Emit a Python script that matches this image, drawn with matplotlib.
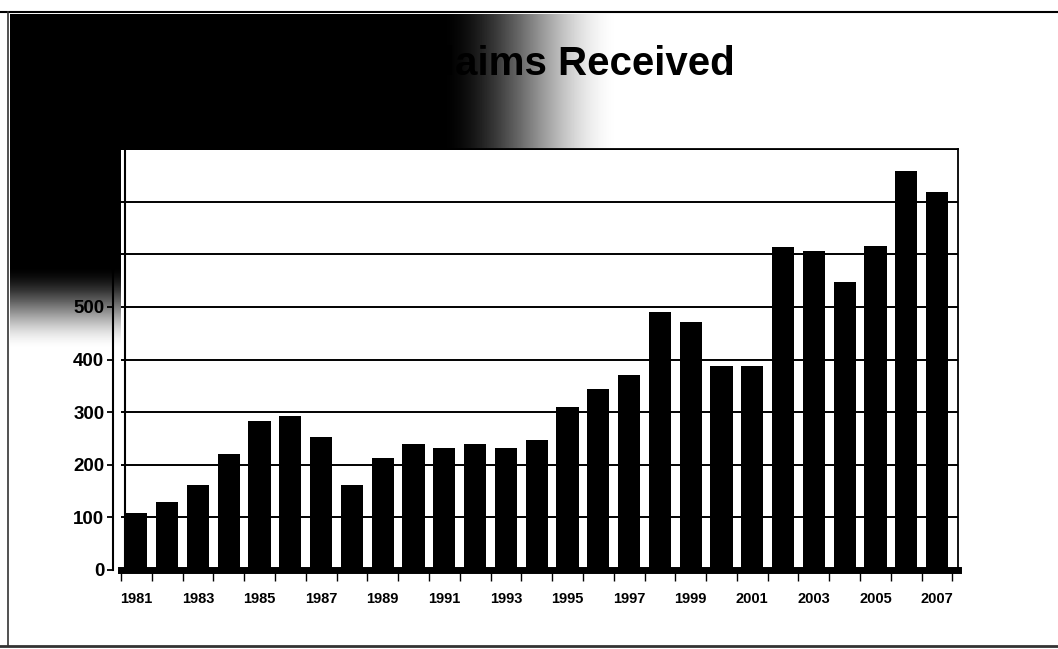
import numpy as np
import matplotlib
matplotlib.use("Agg")
import matplotlib.pyplot as plt
from matplotlib.lines import Line2D

# claims received per year
years = list(range(1981, 2008))
claims = [108, 130, 162, 221, 283, 292, 252, 162, 212, 240, 232, 240, 232, 247,
          309, 343, 370, 491, 471, 387, 387, 614, 606, 547, 616, 759, 719]
year_labels = [str(y) if (y - 1981) % 2 == 0 else "" for y in years]
y_ticks = [0, 100, 200, 300, 400, 500, 600, 700, 800]

W, H = 1058, 649
plt.rcParams['font.family'] = ['Liberation Sans', 'DejaVu Sans']

fig = plt.figure(figsize=(W / 100, H / 100), dpi=100)

# dark gradient in the top-left corner of the slide
bg = fig.add_axes([0, 0, 1, 1], zorder=0)
xx, yy = np.meshgrid(np.arange(W), np.arange(H))

def ramp(v, a, b):
    t = np.clip((b - v) / (b - a), 0, 1)
    return t * t * (3 - 2 * t)

top = ramp(xx, 440, 620) * ((xx > 9) & (yy > 13) & (yy < 150))
left = ramp(yy, 265, 350) * ((xx > 9) & (xx < 121) & (yy > 13))
dark = np.maximum(top, left)
img = 1 - dark
bg.imshow(img, cmap='gray', vmin=0, vmax=1, aspect='auto', interpolation='bilinear')
bg.set_axis_off()

# slide border lines
fig.add_artist(Line2D([0, 1], [1 - 12 / H, 1 - 12 / H], color='black', lw=1.5))
fig.add_artist(Line2D([0, 1], [1 - 646 / H, 1 - 646 / H], color='#333333', lw=2))
fig.add_artist(Line2D([8 / W, 8 / W], [1 - 646 / H, 1 - 12 / H], color='#333333', lw=1.2))

fig.text(735 / W, 1 - 75 / H, "Claims Received", ha='right', va='baseline',
         fontsize=29, fontweight='bold', color='black')

ax = fig.add_axes([121 / W, 1 - 570 / H, (958 - 121) / W, (570 - 149) / H], zorder=2)
ax.spines['left'].set_position(('outward', 6))
ax.set_facecolor('white')
x = np.arange(len(years))
ax.bar(x, claims, width=0.72, color='black', zorder=3)

ax.set_xlim(-0.36, len(years) - 1 + 0.68)
ax.set_ylim(0, 800)
ax.set_yticks(y_ticks)
ax.set_yticklabels([str(v) for v in y_ticks])
ax.yaxis.grid(True, color='black', lw=1.4)
ax.set_axisbelow(True)

ax.spines['left'].set_linewidth(1.5)
ax.spines['top'].set_linewidth(1.3)
ax.spines['right'].set_linewidth(1.3)
ax.spines['bottom'].set_linewidth(5)
ax.spines['bottom'].set_zorder(4)
ax.axvline(-0.36, color='black', lw=1.5, zorder=2)
ax.tick_params(axis='y', direction='out', length=4, width=1.3, pad=2, labelsize=13.5)

ax.set_xticks(x)
ax.set_xticklabels(year_labels)
ax.set_xticks(np.arange(-0.5, len(years), 1), minor=True)
ax.tick_params(axis='x', which='major', length=0, pad=16, labelsize=10.5)
ax.tick_params(axis='x', which='minor', direction='out', length=8, width=1)

for lab in ax.get_xticklabels() + ax.get_yticklabels():
    lab.set_fontweight('bold')

fig.savefig("out.png", dpi=100)
